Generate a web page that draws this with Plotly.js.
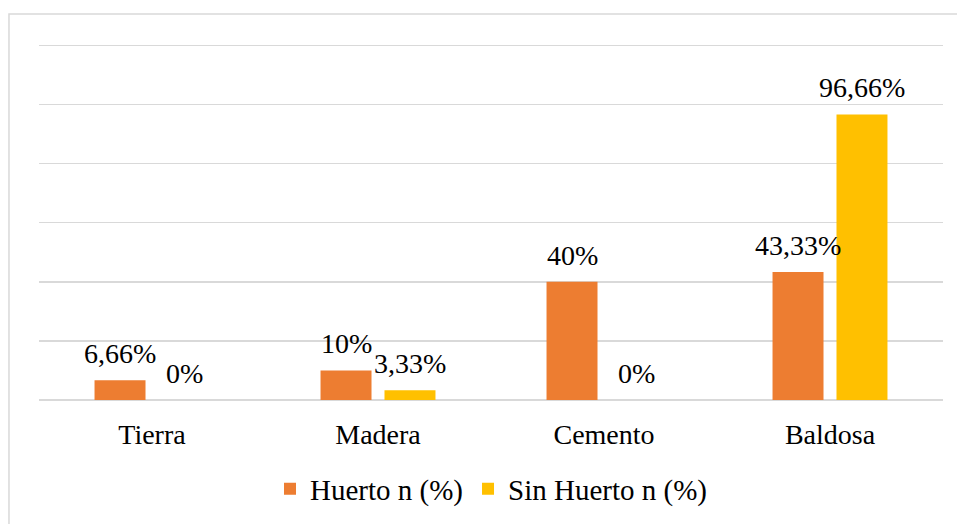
<!DOCTYPE html>
<html><head><meta charset="utf-8">
<script src="https://cdn.plot.ly/plotly-3.0.1.min.js"></script>
<style>body{margin:0;background:#fff}#chart{width:957px;height:524px}</style>
</head><body><div id="chart"></div>
<script>
const categories = ["Tierra", "Madera", "Cemento", "Baldosa"];
const huerto = [6.66, 10, 40, 43.33];
const sinHuerto = [0, 3.33, 0, 96.66];
const seriesNames = ["Huerto n (%)", "Sin Huerto n (%)"];
const colors = ["#ED7D31", "#FFC000"];

const fontFam = "Liberation Serif";
const fmt = v => String(v).replace(".", ",") + "%";

const traces = [huerto, sinHuerto].map((vals, i) => ({
  type: "bar", x: categories, y: vals, name: seriesNames[i],
  marker: {color: colors[i]}, hoverinfo: "skip"
}));

const annotations = [];
[huerto, sinHuerto].forEach((vals, i) => {
  vals.forEach((v, j) => {
    annotations.push({
      x: categories[j], y: v, xref: "x", yref: "y",
      text: fmt(v), showarrow: false, yanchor: "bottom",
      xshift: i === 0 ? -32 : 32, yshift: 9,
      font: {family: fontFam, size: 28, color: "#000"}
    });
  });
});

const layout = {
  width: 957, height: 524,
  margin: {l: 39, r: 14, t: 43.5, b: 124, autoexpand: false},
  paper_bgcolor: "#fff", plot_bgcolor: "#fff",
  barmode: "group", bargap: 0.434, bargroupgap: 0.203,
  font: {family: fontFam, size: 28, color: "#000"},
  xaxis: {showgrid: false, showline: false, ticks: "", ticklabelstandoff: 15, automargin: false,
          tickfont: {family: fontFam, size: 28, color: "#000"}, fixedrange: true},
  yaxis: {range: [0, 120.5], tickvals: [0, 20, 40, 60, 80, 100, 120], showticklabels: false, showgrid: true,
          gridcolor: "#d9d9d9", gridwidth: 1.5, zeroline: true, zerolinecolor: "#d9d9d9",
          zerolinewidth: 1.5, showline: false, ticks: "", fixedrange: true, automargin: false},
  showlegend: true,
  legend: {orientation: "h", x: 0.5, xanchor: "center", yref: "container", y: 0.067, yanchor: "middle",
           font: {family: fontFam, size: 29, color: "#000"}, itemclick: false, traceorder: "normal",
           itemwidth: 30, tracegroupgap: 0},
  annotations: annotations,
  shapes: [{type: "rect", xref: "paper", yref: "paper", x0: -0.0332, x1: 1.1, y0: -0.6, y1: 1.0845,
            line: {color: "#d9d9d9", width: 1.5}, fillcolor: "rgba(0,0,0,0)", layer: "below"}]
};

Plotly.newPlot("chart", traces, layout, {displayModeBar: false, staticPlot: true});
</script></body></html>
